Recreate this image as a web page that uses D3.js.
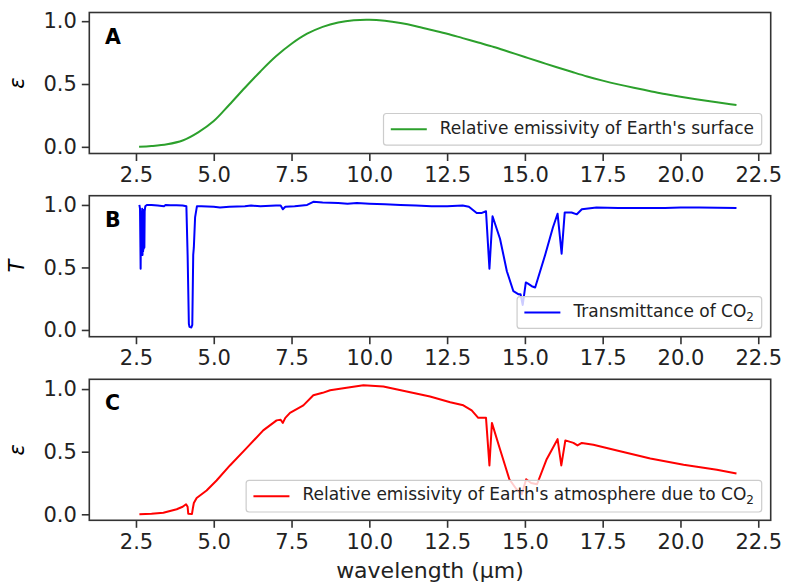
<!DOCTYPE html>
<html>
<head>
<meta charset="utf-8">
<script src="https://d3js.org/d3.v7.min.js"></script>
<style>
  body { margin: 0; background: #fff; }
  svg text { font-family: "DejaVu Sans", sans-serif; }
</style>
</head>
<body>
<svg id="chart" width="785" height="585"></svg>
<script>
// panel A - relative emissivity of the surface
var wavelengthA = [2.6, 3.0, 3.5, 4.0, 4.5, 5.0, 5.5, 6.0, 6.5, 7.0, 7.5, 8.0, 8.5, 9.0, 9.5, 10.0,
    10.5, 11.0, 11.5, 12.0, 12.5, 13.0, 13.5, 14.0, 14.5, 15.0, 15.5, 16.0, 16.5, 17.0, 17.5,
    18.0, 18.5, 19.0, 19.5, 20.0, 20.5, 21.0, 21.5, 21.8];
var emissivitySurface = [0.0, 0.006, 0.02, 0.05, 0.115, 0.205, 0.335, 0.47, 0.6, 0.72, 0.82, 0.9,
    0.955, 0.99, 1.008, 1.012, 1.003, 0.985, 0.96, 0.93, 0.9, 0.865, 0.83, 0.795, 0.755, 0.715,
    0.675, 0.635, 0.597, 0.56, 0.527, 0.497, 0.47, 0.445, 0.42, 0.398, 0.378, 0.36, 0.343, 0.333];

// panel B - transmittance of CO2
var wavelengthB = [2.61, 2.63, 2.65, 2.66, 2.67, 2.68, 2.69, 2.70, 2.71, 2.72, 2.73, 2.74, 2.75, 2.76,
    2.77, 2.78, 2.80, 2.85, 3.0, 3.2, 3.4, 3.45, 3.6, 3.8, 4.0, 4.12, 4.16, 4.2, 4.22, 4.28, 4.31,
    4.34, 4.36, 4.4, 4.46, 4.6, 5.0, 5.2, 5.5, 6.0, 6.2, 6.5, 7.0, 7.15, 7.22, 7.3, 7.6, 8.0, 8.2,
    8.5, 9.0, 9.3, 9.6, 10.0, 10.5, 11.0, 11.5, 12.0, 12.5, 13.0, 13.2, 13.45, 13.6, 13.75, 13.86,
    13.96, 14.2, 14.42, 14.63, 14.8, 14.86, 14.93, 15.03, 15.1, 15.22, 15.33, 15.65, 15.9, 16.05,
    16.18, 16.28, 16.5, 16.67, 16.83, 17.3, 18.0, 19.0, 19.5, 20.0, 20.6, 21.2, 21.8];
var transmittanceCO2 = [1.0, 0.97, 0.49, 0.85, 0.6, 0.95, 0.62, 0.97, 0.6, 0.93, 0.63, 0.96, 0.65, 0.9,
    0.66, 0.95, 0.99, 1.0, 1.0, 0.995, 0.99, 1.0, 0.998, 0.997, 0.996, 0.99, 0.6, 0.05, 0.025, 0.02, 0.04,
    0.6, 0.66, 0.9, 0.99, 0.99, 0.985, 0.98, 0.985, 0.99, 0.995, 0.99, 0.995, 0.995, 0.965, 0.985, 0.99,
    1.0, 1.025, 1.02, 1.015, 1.01, 1.015, 1.01, 1.005, 1.0, 0.995, 0.99, 0.99, 0.995, 0.985, 0.935,
    0.935, 0.95, 0.49, 0.91, 0.73, 0.47, 0.31, 0.285, 0.285, 0.2, 0.38, 0.37, 0.35, 0.34, 0.6, 0.82,
    0.93, 0.61, 0.94, 0.94, 0.925, 0.965, 0.98, 0.975, 0.975, 0.975, 0.98, 0.98, 0.978, 0.975];

// panel C - relative emissivity of the atmosphere due to CO2
var wavelengthC = [2.61, 3.0, 3.38, 3.81, 4.0, 4.11, 4.16, 4.18, 4.3, 4.33, 4.36, 4.45, 4.77, 5.09,
    5.52, 6.06, 6.59, 7.02, 7.15, 7.22, 7.3, 7.45, 7.88, 8.2, 8.5, 8.74, 9.27, 9.81, 10.45, 11.2,
    11.95, 12.6, 13.02, 13.29, 13.5, 13.75, 13.86, 13.94, 14.2, 14.5, 14.73, 14.9, 15.04, 15.2,
    15.39, 15.7, 16.05, 16.17, 16.3, 16.56, 16.69, 16.83, 17.2, 17.96, 19.03, 20.1, 21.17, 21.8];
var emissivityAtmos = [0.0, 0.004, 0.013, 0.04, 0.06, 0.08, 0.06, 0.005, 0.003, 0.05, 0.09, 0.13,
    0.19, 0.27, 0.39, 0.53, 0.67, 0.75, 0.755, 0.73, 0.77, 0.81, 0.87, 0.95, 0.97, 0.99, 1.01, 1.03,
    1.02, 0.98, 0.94, 0.895, 0.87, 0.83, 0.77, 0.77, 0.39, 0.73, 0.52, 0.28, 0.2, 0.16, 0.28, 0.25,
    0.24, 0.44, 0.6, 0.39, 0.59, 0.57, 0.55, 0.57, 0.555, 0.51, 0.445, 0.395, 0.355, 0.325];

var xTicks = [2.5, 5.0, 7.5, 10.0, 12.5, 15.0, 17.5, 20.0, 22.5];
var yTicks = [0.0, 0.5, 1.0];

var panels = [
    { letter: "A", ylabel: "ε", x: wavelengthA, y: emissivitySurface, color: "#2ca02c",
      yDomain: [-0.053, 1.069], top: 12.5, smooth: true,
      legend: "Relative emissivity of Earth's surface", sub: false },
    { letter: "B", ylabel: "T", x: wavelengthB, y: transmittanceCO2, color: "#0000ff",
      yDomain: [-0.054, 1.074], top: 195.7, smooth: false,
      legend: "Transmittance of CO", sub: true },
    { letter: "C", ylabel: "ε", x: wavelengthC, y: emissivityAtmos, color: "#ff0000",
      yDomain: [-0.048, 1.078], top: 379.3, smooth: false,
      legend: "Relative emissivity of Earth's atmosphere due to CO", sub: true }
];

var left = 89.3, right = 770.7, panelH = 141;
var svg = d3.select("#chart");

var x = d3.scaleLinear().domain([1.0, 22.9]).range([left, right]);

panels.forEach(function (p) {
    var y = d3.scaleLinear().domain(p.yDomain).range([p.top + panelH, p.top]);
    var g = svg.append("g");

    // axes
    var xAxis = g.append("g")
        .attr("transform", "translate(0," + (p.top + panelH) + ")")
        .call(d3.axisBottom(x).tickValues(xTicks).tickFormat(d3.format(".1f")).tickSize(7.5).tickPadding(6));
    var yAxis = g.append("g")
        .attr("transform", "translate(" + left + ",0)")
        .call(d3.axisLeft(y).tickValues(yTicks).tickFormat(d3.format(".1f")).tickSize(7.5).tickPadding(5));
    [xAxis, yAxis].forEach(function (a) {
        a.select(".domain").remove();
        a.selectAll("line").attr("stroke", "#333").attr("stroke-width", 1.6);
        a.selectAll("text").attr("font-size", "21px").attr("fill", "#222")
            .attr("font-family", "DejaVu Sans");
    });

    // data line
    var pts = p.x.map(function (d, i) { return [d, p.y[i]]; });
    var line = d3.line()
        .x(function (d) { return x(d[0]); })
        .y(function (d) { return y(d[1]); })
        .curve(p.smooth ? d3.curveCatmullRom.alpha(0.5) : d3.curveLinear);
    g.append("path")
        .datum(pts)
        .attr("d", line)
        .attr("fill", "none")
        .attr("stroke", p.color)
        .attr("stroke-width", 2)
        .attr("stroke-linejoin", "round");

    // frame
    g.append("rect")
        .attr("x", left).attr("y", p.top)
        .attr("width", right - left).attr("height", panelH)
        .attr("fill", "none").attr("stroke", "#333").attr("stroke-width", 1.6);

    // panel letter
    g.append("text")
        .attr("x", 105).attr("y", p.top + 31)
        .attr("font-size", "20.5px").attr("font-weight", "bold")
        .text(p.letter);

    // y label
    g.append("text")
        .attr("transform", "translate(24," + (p.top + panelH / 2) + ") rotate(-90)")
        .attr("text-anchor", "middle")
        .attr("font-size", "21px").attr("font-style", "italic")
        .text(p.ylabel);

    // legend
    var lg = g.append("g");
    var box = lg.append("rect");
    var txt = lg.append("text").attr("font-size", "17px").attr("fill", "#222").text(p.legend);
    if (p.sub) {
        txt.append("tspan").attr("font-size", "12px").attr("dy", 4).text("2");
    }
    var tw = txt.node().getComputedTextLength();
    var bw = tw + 64, bh = 31.7;
    var bx = right - 9 - bw, by = p.top + panelH - 8.3 - bh;
    box.attr("x", bx).attr("y", by).attr("width", bw).attr("height", bh)
        .attr("rx", 3).attr("fill", "white").attr("fill-opacity", 0.8)
        .attr("stroke", "#ccc").attr("stroke-width", 1.2);
    lg.append("line")
        .attr("x1", bx + 7.3).attr("x2", bx + 43.3)
        .attr("y1", by + bh / 2).attr("y2", by + bh / 2)
        .attr("stroke", p.color).attr("stroke-width", 2);
    txt.attr("x", bx + 56.3).attr("y", by + 20);
});

// x label
svg.append("text")
    .attr("x", (left + right) / 2).attr("y", 578)
    .attr("text-anchor", "middle")
    .attr("font-size", "22px").attr("fill", "#222")
    .text("wavelength (μm)");
</script>
</body>
</html>
